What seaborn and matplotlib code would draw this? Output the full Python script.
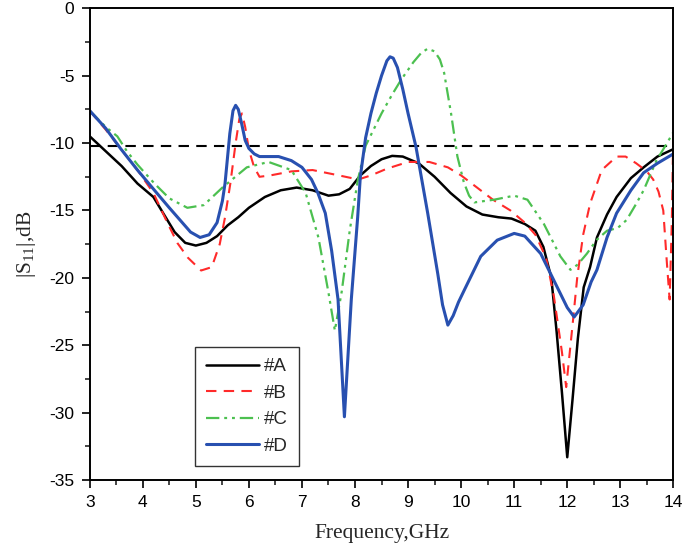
import matplotlib
matplotlib.use("Agg")
import matplotlib.pyplot as plt
import seaborn as sns
import pandas as pd

# ---- data ----
freq_A = [3.0, 3.3, 3.6, 3.9, 4.2, 4.4, 4.6, 4.8, 5.0, 5.2, 5.4, 5.6, 5.8, 6.0, 6.3, 6.6, 6.9,
          7.2, 7.5, 7.7, 7.9, 8.1, 8.3, 8.5, 8.7, 8.9, 9.2, 9.5, 9.8, 10.1, 10.4, 10.7, 10.95,
          11.2, 11.4, 11.55, 11.7, 11.8, 11.9, 12.0, 12.1, 12.2, 12.31, 12.43, 12.56, 12.75,
          12.93, 13.2, 13.44, 13.7, 14.0]
s11_A = [-9.5, -10.6, -11.7, -13.0, -14.0, -15.3, -16.6, -17.4, -17.6, -17.4, -16.9, -16.1,
         -15.5, -14.8, -14.0, -13.5, -13.3, -13.5, -13.9, -13.8, -13.4, -12.4, -11.7, -11.2,
         -10.95, -11.0, -11.5, -12.5, -13.7, -14.7, -15.3, -15.5, -15.6, -16.0, -16.5, -17.7,
         -20.0, -24.0, -28.5, -33.3, -29.0, -24.5, -20.7, -19.2, -17.0, -15.3, -14.0, -12.6,
         -11.8, -11.0, -10.45]

freq_B = [3.0, 3.3, 3.6, 3.9, 4.2, 4.45, 4.65, 4.85, 5.1, 5.3, 5.45, 5.55, 5.65, 5.75, 5.82,
          5.87, 5.93, 6.0, 6.1, 6.2, 6.4, 6.8, 7.2, 7.7, 8.06, 8.3, 8.6, 9.0, 9.4, 9.75, 10.0,
          10.3, 10.6, 10.93, 11.2, 11.4, 11.6, 11.75, 11.9, 11.98, 12.1, 12.19, 12.3, 12.43,
          12.65, 12.93, 13.1, 13.3, 13.5, 13.62, 13.72, 13.81, 13.88, 13.93, 13.97, 14.0]
s11_B = [-7.6, -9.0, -10.5, -12.0, -13.7, -15.8, -17.4, -18.5, -19.45, -19.2, -17.5, -15.5,
         -13.0, -10.0, -8.2, -7.8, -8.8, -10.5, -11.8, -12.5, -12.4, -12.1, -12.0, -12.4,
         -12.7, -12.4, -11.9, -11.4, -11.4, -11.8, -12.4, -13.3, -14.2, -15.0, -15.9, -16.8,
         -18.5, -21.4, -25.5, -28.1, -23.5, -19.9, -16.8, -14.5, -12.0, -11.0, -11.0, -11.5,
         -12.1, -12.7, -13.6, -15.0, -19.0, -21.6, -16.0, -9.0]

freq_C = [3.0, 3.3, 3.52, 3.7, 3.9, 4.22, 4.5, 4.84, 5.15, 5.5, 5.96, 6.37, 6.8, 7.07, 7.31,
          7.5, 7.62, 7.75, 7.9, 8.05, 8.2, 8.35, 8.5, 8.7, 8.87, 9.1, 9.25, 9.37, 9.5, 9.6,
          9.68, 9.81, 9.93, 10.05, 10.15, 10.25, 10.62, 11.0, 11.25, 11.56, 11.87, 12.06, 12.2,
          12.37, 12.55, 12.75, 12.95, 13.12, 13.3, 13.44, 13.68, 13.85, 14.0]
s11_C = [-7.6, -8.8, -9.5, -10.6, -11.6, -13.0, -14.1, -14.8, -14.6, -13.3, -11.8, -11.4,
         -12.0, -13.7, -17.0, -21.1, -23.9, -21.0, -16.5, -12.8, -10.2, -9.0, -7.8, -6.4,
         -5.3, -4.0, -3.3, -3.0, -3.2, -3.8, -4.8, -7.8, -11.0, -12.9, -13.9, -14.4, -14.2,
         -13.9, -14.2, -16.0, -18.4, -19.4, -19.0, -18.2, -17.2, -16.5, -16.3, -15.7, -14.5,
         -13.5, -11.3, -10.2, -9.2]

freq_D = [3.0, 3.3, 3.58, 3.9, 4.22, 4.5, 4.7, 4.9, 5.08, 5.25, 5.4, 5.5, 5.55, 5.64, 5.7,
          5.75, 5.8, 5.86, 5.93, 6.0, 6.1, 6.2, 6.56, 6.8, 7.0, 7.18, 7.3, 7.44, 7.56, 7.68,
          7.8, 7.93, 8.05, 8.1, 8.2, 8.3, 8.4, 8.5, 8.6, 8.66, 8.72, 8.8, 8.9, 9.0, 9.15, 9.37,
          9.56, 9.65, 9.75, 9.85, 9.95, 10.06, 10.37, 10.68, 11.0, 11.2, 11.5, 11.75, 12.0,
          12.13, 12.3, 12.45, 12.56, 12.75, 12.93, 13.2, 13.44, 13.7, 14.0]
s11_D = [-7.6, -8.9, -10.4, -12.0, -13.5, -14.8, -15.7, -16.6, -17.0, -16.8, -15.9, -14.3,
         -13.0, -9.3, -7.6, -7.2, -7.5, -8.5, -9.8, -10.4, -10.8, -11.0, -11.0, -11.3,
         -11.8, -12.7, -13.7, -15.2, -18.0, -21.6, -30.3, -21.6, -15.5, -12.5, -9.6, -7.8,
         -6.3, -5.0, -3.9, -3.6, -3.7, -4.4, -6.0, -7.8, -10.3, -15.2, -19.7, -22.0, -23.5,
         -22.8, -21.8, -20.9, -18.4, -17.2, -16.7, -16.9, -18.2, -20.2, -22.2, -22.9, -22.0,
         -20.3, -19.4, -17.0, -15.2, -13.5, -12.2, -11.5, -10.8]

threshold = -10.2
labels = ["#A", "#B", "#C", "#D"]

# ---- plotting ----
sns.set_style("ticks")
plt.rcParams["font.family"] = ["Liberation Sans", "DejaVu Sans"]
plt.rcParams["axes.unicode_minus"] = False
plt.rcParams["mathtext.fontset"] = "custom"
plt.rcParams["mathtext.rm"] = "Liberation Serif"
plt.rcParams["mathtext.it"] = "Liberation Serif:italic"

fig = plt.figure(figsize=(6.85, 5.5), dpi=100)
ax = fig.add_axes([0.131, 0.127, 0.852, 0.858])

series = [
    (freq_A, s11_A, labels[0], "black", "-", 1.8),
    (freq_B, s11_B, labels[1], "#ff2a2a", (0, (5, 3.5)), 1.5),
    (freq_C, s11_C, labels[2], "#4cc050", (0, (6, 2.2, 1.3, 2.2, 1.3, 2.2)), 1.6),
    (freq_D, s11_D, labels[3], "#2850b0", "-", 2.2),
]
for fx, fy, lab, col, ls, lw in series:
    df = pd.DataFrame({"Frequency": fx, "S11": fy})
    sns.lineplot(data=df, x="Frequency", y="S11", ax=ax, color=col, linestyle=ls,
                 linewidth=lw, label=lab, sort=False, solid_joinstyle="round",
                 dash_joinstyle="round")

ax.axhline(threshold, color="black", linestyle=(0, (5, 3.5)), linewidth=1.5, zorder=1)

ax.set_xlim(3, 14)
ax.set_ylim(-35, 0)
ax.set_xticks(range(3, 15))
ax.set_yticks(range(-35, 1, 5))
ax.set_xticks([x + 0.5 for x in range(3, 14)], minor=True)
ax.set_yticks([y + 2.5 for y in range(-35, 0, 5)], minor=True)
ax.tick_params(which="major", direction="out", length=6, width=1.2, labelsize=12.5,
               colors="black", pad=5)
ax.tick_params(which="minor", direction="out", length=3.5, width=1.2)
ax.tick_params(top=False, right=False)
for sp in ax.spines.values():
    sp.set_visible(True)
    sp.set_linewidth(1.4)
    sp.set_color("black")

ax.set_xlabel("Frequency,GHz", fontfamily="Liberation Serif", fontsize=15.5, labelpad=10)
ax.set_ylabel(r"|S$_{\mathrm{11}}$|,dB", fontfamily="Liberation Serif", fontsize=15.5,
              labelpad=8)

leg = ax.legend(loc="lower left", bbox_to_anchor=(0.18, 0.03), fontsize=13.5,
                frameon=True, fancybox=False, edgecolor="#333333", framealpha=1,
                handlelength=2.8, handletextpad=0.3, labelspacing=0.5,
                borderpad=0.6, borderaxespad=0)
leg.get_frame().set_linewidth(1.0)

fig.savefig("out.png", dpi=100)
